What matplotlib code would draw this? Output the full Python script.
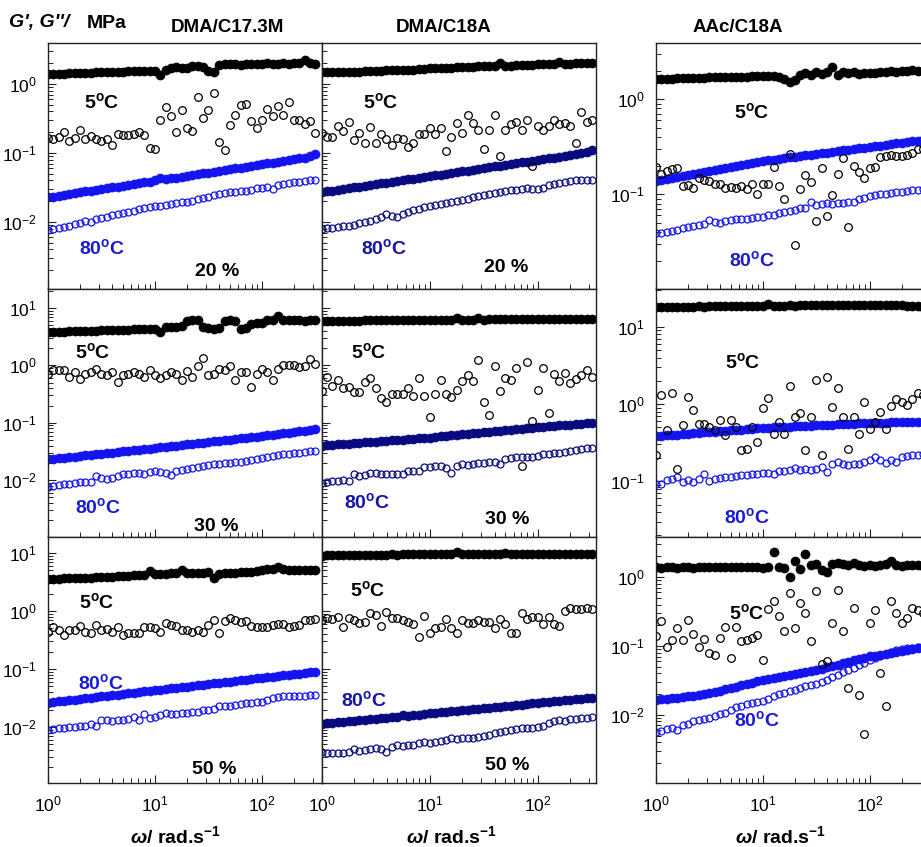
import numpy as np
import matplotlib
matplotlib.use('Agg')
import matplotlib.pyplot as plt
from matplotlib import ticker

plt.rcParams.update({
    'font.family': 'Liberation Sans',
    'mathtext.fontset': 'custom',
    'mathtext.rm': 'Liberation Sans',
    'mathtext.it': 'Liberation Sans:italic:bold',
    'mathtext.bf': 'Liberation Sans:bold',
})

# frequency sweep, rad/s
omega = [1.00, 1.12, 1.26, 1.41, 1.58, 1.78, 2.00, 2.24, 2.51, 2.82,
         3.16, 3.55, 3.98, 4.47, 5.01, 5.62, 6.31, 7.08, 7.94, 8.91,
         10.0, 11.2, 12.6, 14.1, 15.8, 17.8, 20.0, 22.4, 25.1, 28.2,
         31.6, 35.5, 39.8, 44.7, 50.1, 56.2, 63.1, 70.8, 79.4, 89.1,
         100, 112, 126, 141, 158, 178, 200, 224, 251, 282, 316]

# ---- DMA/C17.3M, 20 % ----
dma17_20_gp5 = [1.40, 1.40, 1.41, 1.42, 1.43, 1.43, 1.44, 1.45, 1.46, 1.47,
                1.48, 1.49, 1.50, 1.50, 1.51, 1.52, 1.53, 1.55, 1.56, 1.55,
                1.52, 1.35, 1.62, 1.70, 1.78, 1.72, 1.68, 1.80, 1.85, 1.75,
                1.55, 1.50, 1.90, 1.95, 1.92, 1.96, 1.90, 1.95, 1.98, 1.93,
                1.97, 2.00, 1.95, 1.98, 2.02, 1.96, 2.00, 2.05, 2.20, 2.00, 1.95]
dma17_20_gpp5 = [0.163, 0.16, 0.17, 0.20, 0.15, 0.165, 0.215, 0.16, 0.175, 0.16,
                 0.15, 0.16, 0.13, 0.19, 0.18, 0.18, 0.19, 0.20, 0.18, 0.117,
                 0.115, 0.30, 0.47, 0.34, 0.20, 0.42, 0.23, 0.21, 0.65, 0.32,
                 0.42, 0.75, 0.146, 0.11, 0.255, 0.355, 0.50, 0.51, 0.295, 0.228,
                 0.30, 0.44, 0.345, 0.48, 0.355, 0.55, 0.30, 0.30, 0.263, 0.29, 0.193]
dma17_20_gp80 = [0.0230, 0.0234, 0.0242, 0.0249, 0.0256, 0.0262, 0.0270, 0.0278, 0.0285, 0.0293,
                 0.0300, 0.0310, 0.0318, 0.0327, 0.0335, 0.0345, 0.0355, 0.0365, 0.0375, 0.0385,
                 0.0400, 0.0440, 0.0420, 0.0430, 0.0440, 0.0452, 0.0465, 0.0478, 0.0490, 0.0505,
                 0.0520, 0.0535, 0.0550, 0.0565, 0.0580, 0.0597, 0.0614, 0.0630, 0.0650, 0.0667,
                 0.0686, 0.0705, 0.0725, 0.0745, 0.0766, 0.0790, 0.0810, 0.0835, 0.0860, 0.0920, 0.0980]
dma17_20_gpp80 = [0.0077, 0.0079, 0.0081, 0.0084, 0.0088, 0.0093, 0.0098, 0.0103, 0.0101, 0.0110,
                  0.0115, 0.0118, 0.0125, 0.0130, 0.0137, 0.0142, 0.0145, 0.0155, 0.0158, 0.0163,
                  0.0168, 0.0170, 0.0178, 0.0182, 0.0188, 0.0196, 0.0192, 0.0205, 0.0218, 0.0225,
                  0.0230, 0.0245, 0.0255, 0.0262, 0.0272, 0.0276, 0.0278, 0.0285, 0.0292, 0.0310,
                  0.0315, 0.0325, 0.0305, 0.0340, 0.0360, 0.0368, 0.0375, 0.0385, 0.0390, 0.0402, 0.0405]

# ---- DMA/C18A, 20 % ----
dma18_20_gp5 = [1.50, 1.48, 1.47, 1.47, 1.48, 1.49, 1.50, 1.51, 1.52, 1.53,
                1.55, 1.56, 1.57, 1.58, 1.59, 1.60, 1.60, 1.62, 1.63, 1.64,
                1.68, 1.68, 1.70, 1.72, 1.73, 1.74, 1.75, 1.77, 1.78, 1.80,
                1.80, 1.82, 1.83, 2.00, 1.82, 1.85, 1.86, 1.88, 1.90, 1.90,
                1.93, 1.92, 1.95, 1.96, 2.10, 1.97, 1.98, 2.00, 1.99, 2.00, 2.00]
dma18_20_gpp5 = [0.197, 0.169, 0.17, 0.246, 0.211, 0.284, 0.154, 0.197, 0.141, 0.236,
                 0.141, 0.186, 0.16, 0.131, 0.165, 0.16, 0.124, 0.141, 0.186, 0.186,
                 0.228, 0.19, 0.228, 0.108, 0.17, 0.275, 0.195, 0.355, 0.27, 0.215,
                 0.113, 0.215, 0.355, 0.0905, 0.215, 0.26, 0.28, 0.215, 0.30, 0.065,
                 0.246, 0.215, 0.25, 0.30, 0.26, 0.27, 0.25, 0.141, 0.397, 0.28, 0.30]
dma18_20_gp80 = [0.0270, 0.0278, 0.0285, 0.0293, 0.0300, 0.0308, 0.0317, 0.0325, 0.0334, 0.0343,
                 0.0352, 0.0362, 0.0372, 0.0382, 0.0393, 0.0403, 0.0414, 0.0426, 0.0437, 0.0449,
                 0.0462, 0.0474, 0.0487, 0.0500, 0.0514, 0.0528, 0.0543, 0.0558, 0.0573, 0.0588,
                 0.0605, 0.0621, 0.0638, 0.0655, 0.0673, 0.0692, 0.0711, 0.0730, 0.0750, 0.0770,
                 0.0792, 0.0814, 0.0836, 0.0859, 0.0882, 0.0906, 0.0931, 0.0957, 0.1000, 0.1050, 0.1100]
dma18_20_gpp80 = [0.0079, 0.0081, 0.0083, 0.0085, 0.0087, 0.0089, 0.0092, 0.0096, 0.0100, 0.0105,
                  0.0109, 0.0118, 0.0130, 0.0122, 0.0120, 0.0130, 0.0140, 0.0148, 0.0155, 0.0163,
                  0.0170, 0.0178, 0.0185, 0.0190, 0.0195, 0.0200, 0.0206, 0.0215, 0.0228, 0.0236,
                  0.0245, 0.0255, 0.0265, 0.0272, 0.0283, 0.0290, 0.0296, 0.0300, 0.0308, 0.0305,
                  0.0300, 0.0315, 0.0345, 0.0355, 0.0370, 0.0385, 0.0390, 0.0400, 0.0405, 0.0410, 0.0410]

# ---- AAc/C18A, 20 % ----
aac18_20_gp5 = [1.62, 1.63, 1.64, 1.65, 1.66, 1.66, 1.67, 1.68, 1.68, 1.69,
                1.70, 1.70, 1.71, 1.71, 1.72, 1.72, 1.73, 1.73, 1.74, 1.74,
                1.75, 1.75, 1.76, 1.72, 1.62, 1.53, 1.60, 1.78, 1.90, 1.80,
                1.95, 1.85, 1.92, 2.20, 1.80, 1.95, 1.88, 1.92, 1.85, 1.90,
                1.90, 1.88, 1.95, 1.92, 1.98, 1.95, 2.00, 1.98, 2.02, 2.00, 2.00]
aac18_20_gpp5 = [0.194, 0.162, 0.176, 0.183, 0.19, 0.122, 0.125, 0.117, 0.147, 0.143,
                 0.138, 0.127, 0.129, 0.117, 0.119, 0.117, 0.121, 0.115, 0.127, 0.101,
                 0.127, 0.129, 0.194, 0.121, 0.089, 0.268, 0.0296, 0.113, 0.159, 0.136,
                 0.0525, 0.19, 0.0598, 0.0977, 0.164, 0.243, 0.0449, 0.199, 0.171, 0.15,
                 0.19, 0.194, 0.248, 0.25, 0.262, 0.255, 0.25, 0.262, 0.275, 0.299, 0.30]
aac18_20_gp80 = [0.138, 0.141, 0.145, 0.148, 0.152, 0.156, 0.160, 0.164, 0.168, 0.172,
                 0.176, 0.180, 0.185, 0.189, 0.194, 0.198, 0.203, 0.208, 0.213, 0.218,
                 0.224, 0.228, 0.232, 0.236, 0.240, 0.244, 0.248, 0.252, 0.257, 0.261,
                 0.266, 0.270, 0.275, 0.280, 0.285, 0.290, 0.295, 0.300, 0.305, 0.310,
                 0.315, 0.320, 0.326, 0.331, 0.337, 0.343, 0.349, 0.355, 0.361, 0.367, 0.373]
aac18_20_gpp80 = [0.0388, 0.0395, 0.0404, 0.0415, 0.0425, 0.0438, 0.0450, 0.0460, 0.0475, 0.0490,
                  0.0535, 0.0510, 0.0505, 0.0520, 0.0538, 0.0545, 0.0550, 0.0555, 0.0570, 0.0580,
                  0.0583, 0.0600, 0.0608, 0.0630, 0.0650, 0.0660, 0.0680, 0.0710, 0.0715, 0.0840,
                  0.0780, 0.0800, 0.0810, 0.0790, 0.0810, 0.0820, 0.0830, 0.0840, 0.0890, 0.0920,
                  0.0950, 0.0990, 0.1000, 0.1010, 0.1030, 0.1050, 0.1070, 0.1090, 0.1100, 0.1120, 0.1130]

# ---- DMA/C17.3M, 30 % ----
dma17_30_gp5 = [3.84, 3.86, 3.88, 3.90, 3.93, 3.95, 3.98, 4.00, 4.03, 4.05,
                4.08, 4.10, 4.13, 4.15, 4.20, 4.22, 4.25, 4.30, 4.35, 4.40,
                4.40, 3.90, 4.70, 4.75, 4.70, 4.80, 6.00, 6.30, 6.10, 4.60,
                4.50, 4.40, 4.50, 6.00, 6.10, 6.00, 4.40, 4.50, 5.30, 5.40,
                5.50, 6.10, 6.20, 7.20, 6.20, 6.10, 6.10, 6.20, 6.00, 6.10, 6.10]
dma17_30_gpp5 = [0.714, 0.84, 0.817, 0.817, 0.624, 0.764, 0.583, 0.70, 0.764, 0.875,
                 0.714, 0.668, 0.764, 0.51, 0.668, 0.714, 0.764, 0.714, 0.624, 0.817,
                 0.668, 0.608, 0.668, 0.764, 0.70, 0.561, 0.80, 0.624, 0.96, 1.36,
                 0.668, 0.70, 0.875, 0.82, 0.96, 0.546, 0.764, 0.764, 0.417, 0.70,
                 0.875, 0.764, 0.561, 0.875, 1.0, 1.0, 1.0, 0.935, 0.96, 1.31, 1.07]
dma17_30_gp80 = [0.0229, 0.0234, 0.0240, 0.0245, 0.0251, 0.0257, 0.0263, 0.0269, 0.0275, 0.0282,
                 0.0288, 0.0295, 0.0302, 0.0309, 0.0316, 0.0323, 0.0331, 0.0338, 0.0346, 0.0354,
                 0.0363, 0.0372, 0.0381, 0.0390, 0.0400, 0.0410, 0.0420, 0.0430, 0.0440, 0.0451,
                 0.0462, 0.0474, 0.0485, 0.0497, 0.0509, 0.0522, 0.0535, 0.0548, 0.0561, 0.0575,
                 0.0589, 0.0605, 0.0622, 0.0639, 0.0657, 0.0675, 0.0694, 0.0713, 0.0733, 0.0754, 0.0775]
dma17_30_gpp80 = [0.0075, 0.0079, 0.0082, 0.0084, 0.0087, 0.0090, 0.0091, 0.0092, 0.0093, 0.0118,
                  0.0107, 0.0103, 0.0108, 0.0118, 0.0126, 0.0128, 0.0131, 0.0134, 0.0128, 0.0138,
                  0.0144, 0.0140, 0.0135, 0.0122, 0.0144, 0.0150, 0.0154, 0.0160, 0.0169, 0.0175,
                  0.0182, 0.0188, 0.0192, 0.0197, 0.0201, 0.0205, 0.0210, 0.0214, 0.0222, 0.0232,
                  0.0242, 0.0250, 0.0260, 0.0272, 0.0282, 0.0288, 0.0295, 0.0302, 0.0310, 0.0318, 0.0323]

# ---- DMA/C18A, 30 % ----
dma18_30_gp5 = [6.0, 5.95, 5.95, 6.0, 6.0, 6.0, 6.05, 6.05, 6.1, 6.1,
                6.1, 6.15, 6.1, 6.15, 6.2, 6.2, 6.25, 6.2, 6.15, 6.2,
                6.25, 6.25, 6.3, 6.3, 6.3, 6.6, 6.3, 6.3, 6.25, 6.65,
                6.3, 6.35, 6.35, 6.4, 6.35, 6.4, 6.4, 6.45, 6.4, 6.4,
                6.45, 6.45, 6.4, 6.45, 6.45, 6.5, 6.45, 6.5, 6.5, 6.45, 6.5]
dma18_30_gpp5 = [0.364, 0.641, 0.446, 0.546, 0.406, 0.417, 0.34, 0.34, 0.51, 0.608,
                 0.406, 0.271, 0.233, 0.318, 0.318, 0.318, 0.406, 0.298, 0.60, 0.298,
                 0.124, 0.318, 0.546, 0.318, 0.278, 0.374, 0.531, 0.668, 0.531, 1.22,
                 0.227, 0.138, 0.96, 0.355, 0.60, 0.561, 0.91, 0.0176, 1.14, 0.108,
                 0.374, 0.91, 0.146, 0.714, 0.54, 0.73, 0.49, 0.583, 0.668, 0.817, 0.641]
dma18_30_gp80 = [0.0400, 0.0407, 0.0413, 0.0420, 0.0427, 0.0434, 0.0441, 0.0448, 0.0455, 0.0463,
                 0.0470, 0.0478, 0.0486, 0.0494, 0.0502, 0.0510, 0.0518, 0.0527, 0.0535, 0.0544,
                 0.0553, 0.0565, 0.0577, 0.0589, 0.0601, 0.0614, 0.0627, 0.0640, 0.0653, 0.0667,
                 0.0681, 0.0695, 0.0710, 0.0725, 0.0740, 0.0755, 0.0771, 0.0787, 0.0804, 0.0821,
                 0.0838, 0.0853, 0.0868, 0.0883, 0.0898, 0.0914, 0.0930, 0.0946, 0.0962, 0.0979, 0.0996]
dma18_30_gpp80 = [0.0090, 0.0093, 0.0096, 0.0098, 0.0099, 0.0097, 0.0126, 0.0118, 0.0125, 0.0134,
                  0.0132, 0.0126, 0.0129, 0.0129, 0.0128, 0.0126, 0.0144, 0.0145, 0.0147, 0.0169,
                  0.0169, 0.0176, 0.0176, 0.0164, 0.0134, 0.0175, 0.0188, 0.0185, 0.0195, 0.0201,
                  0.0201, 0.0208, 0.0205, 0.0188, 0.0231, 0.0240, 0.0253, 0.0253, 0.0253, 0.0258,
                  0.0264, 0.0282, 0.0290, 0.0302, 0.0302, 0.0310, 0.0323, 0.0330, 0.0350, 0.0360, 0.0369]

# ---- AAc/C18A, 30 % ----
aac18_30_gp5 = [18.0, 18.2, 18.0, 18.2, 18.3, 18.1, 18.2, 18.3, 18.4, 18.3,
                18.4, 18.5, 18.4, 18.5, 18.6, 18.5, 18.6, 18.5, 18.6, 18.7,
                18.8, 19.8, 18.8, 18.9, 18.8, 19.0, 18.9, 19.0, 19.2, 19.1,
                19.0, 19.2, 19.0, 19.1, 19.3, 19.2, 19.3, 19.2, 19.4, 19.3,
                19.2, 19.3, 19.1, 19.0, 19.2, 19.1, 19.0, 18.8, 18.6, 18.4, 18.2]
aac18_30_gpp5 = [0.218, 1.31, 0.469, 1.38, 0.146, 0.533, 1.24, 0.836, 0.561, 0.561,
                 0.508, 0.459, 0.632, 0.396, 0.632, 0.508, 0.253, 0.266, 0.508, 0.324,
                 0.879, 1.19, 0.416, 0.59, 0.416, 1.71, 0.684, 0.757, 0.253, 0.684,
                 2.05, 0.218, 2.26, 0.923, 1.6, 0.684, 0.266, 0.684, 0.416, 1.07,
                 0.483, 0.59, 0.795, 0.483, 0.942, 1.15, 1.07, 0.97, 1.15, 1.38, 1.31]
aac18_30_gp80 = [0.384, 0.389, 0.394, 0.399, 0.404, 0.409, 0.414, 0.419, 0.424, 0.430,
                 0.435, 0.440, 0.446, 0.451, 0.457, 0.463, 0.469, 0.475, 0.481, 0.487,
                 0.493, 0.497, 0.500, 0.504, 0.508, 0.512, 0.515, 0.519, 0.523, 0.527,
                 0.531, 0.535, 0.539, 0.543, 0.547, 0.551, 0.555, 0.560, 0.564, 0.568,
                 0.573, 0.575, 0.576, 0.578, 0.580, 0.581, 0.583, 0.585, 0.586, 0.588, 0.590]
aac18_30_gpp80 = [0.0914, 0.0933, 0.103, 0.108, 0.114, 0.098, 0.105, 0.098, 0.108, 0.123,
                  0.101, 0.108, 0.112, 0.114, 0.114, 0.116, 0.120, 0.120, 0.126, 0.126,
                  0.128, 0.128, 0.123, 0.136, 0.136, 0.142, 0.151, 0.142, 0.146, 0.142,
                  0.146, 0.153, 0.132, 0.166, 0.178, 0.169, 0.161, 0.169, 0.169, 0.178,
                  0.187, 0.207, 0.187, 0.173, 0.187, 0.178, 0.207, 0.211, 0.218, 0.218, 0.224]

# ---- DMA/C17.3M, 50 % ----
dma17_50_gp5 = [3.50, 3.55, 3.60, 3.65, 3.68, 3.70, 3.72, 3.75, 3.78, 3.80,
                3.85, 3.88, 3.92, 3.95, 4.00, 4.05, 4.10, 4.15, 4.20, 4.90,
                4.30, 4.35, 4.40, 4.45, 4.60, 5.00, 4.60, 4.50, 4.55, 4.60,
                4.65, 3.70, 4.40, 4.50, 4.60, 4.60, 4.70, 4.80, 4.70, 4.90,
                5.10, 5.20, 5.40, 5.80, 5.30, 5.10, 5.00, 5.10, 5.00, 5.00, 5.00]
dma17_50_gpp5 = [0.44, 0.523, 0.47, 0.386, 0.47, 0.47, 0.551, 0.44, 0.412, 0.574,
                 0.47, 0.483, 0.44, 0.523, 0.386, 0.412, 0.412, 0.423, 0.523, 0.523,
                 0.503, 0.44, 0.629, 0.574, 0.551, 0.47, 0.47, 0.44, 0.47, 0.44,
                 0.574, 0.70, 0.412, 0.681, 0.748, 0.70, 0.655, 0.681, 0.551, 0.537,
                 0.537, 0.523, 0.574, 0.597, 0.597, 0.523, 0.551, 0.574, 0.70, 0.70, 0.718]
dma17_50_gp80 = [0.0263, 0.0270, 0.0276, 0.0283, 0.0290, 0.0297, 0.0305, 0.0312, 0.0320, 0.0328,
                 0.0336, 0.0345, 0.0353, 0.0362, 0.0371, 0.0380, 0.0390, 0.0399, 0.0409, 0.0420,
                 0.0430, 0.0441, 0.0452, 0.0463, 0.0475, 0.0486, 0.0498, 0.0511, 0.0523, 0.0537,
                 0.0550, 0.0564, 0.0578, 0.0592, 0.0607, 0.0622, 0.0637, 0.0653, 0.0670, 0.0686,
                 0.0703, 0.0721, 0.0739, 0.0757, 0.0776, 0.0795, 0.0815, 0.0835, 0.0856, 0.0877, 0.0899]
dma17_50_gpp80 = [0.0089, 0.0092, 0.0095, 0.0097, 0.0099, 0.0101, 0.0103, 0.0104, 0.0113, 0.0104,
                  0.0132, 0.0130, 0.0129, 0.0131, 0.0133, 0.0136, 0.0151, 0.0132, 0.0165, 0.0140,
                  0.0151, 0.0158, 0.0172, 0.0170, 0.0169, 0.0173, 0.0177, 0.0180, 0.0184, 0.0196,
                  0.0198, 0.0202, 0.0230, 0.0228, 0.0226, 0.0239, 0.0245, 0.0256, 0.0260, 0.0266,
                  0.0273, 0.0292, 0.0310, 0.0333, 0.0338, 0.0342, 0.0342, 0.0342, 0.0348, 0.0352, 0.0356]

# ---- DMA/C18A, 50 % ----
dma18_50_gp5 = [9.0, 9.1, 9.2, 9.1, 9.2, 9.3, 9.2, 9.3, 9.3, 9.4,
                9.3, 9.4, 9.4, 9.5, 9.4, 9.5, 9.5, 9.6, 9.5, 9.6,
                9.6, 9.7, 9.6, 9.7, 9.6, 10.3, 9.7, 9.8, 9.7, 9.8,
                9.8, 9.7, 9.8, 9.8, 9.9, 9.8, 9.8, 9.7, 9.8, 9.8,
                9.7, 9.8, 9.7, 9.7, 9.8, 9.7, 9.7, 9.6, 9.7, 9.6, 9.6]
dma18_50_gpp5 = [0.70, 0.748, 0.718, 0.778, 0.523, 0.748, 0.70, 0.629, 0.655, 0.936,
                 0.853, 0.551, 0.973, 0.748, 0.748, 0.70, 0.655, 0.597, 0.361, 0.82,
                 0.423, 0.503, 0.537, 0.718, 0.503, 0.423, 0.70, 0.629, 0.612, 0.70,
                 0.655, 0.655, 0.503, 0.718, 0.597, 0.423, 0.412, 0.936, 0.718, 0.778,
                 0.778, 0.597, 0.798, 0.597, 0.551, 1.013, 1.11, 1.07, 1.07, 1.11, 1.07]
dma18_50_gp80 = [0.0113, 0.0115, 0.0118, 0.0120, 0.0123, 0.0125, 0.0128, 0.0131, 0.0133, 0.0136,
                 0.0139, 0.0142, 0.0145, 0.0148, 0.0151, 0.0158, 0.0157, 0.0161, 0.0164, 0.0168,
                 0.0171, 0.0175, 0.0178, 0.0182, 0.0186, 0.0190, 0.0194, 0.0198, 0.0202, 0.0206,
                 0.0211, 0.0215, 0.0220, 0.0224, 0.0229, 0.0234, 0.0239, 0.0244, 0.0249, 0.0254,
                 0.0260, 0.0265, 0.0271, 0.0276, 0.0282, 0.0288, 0.0294, 0.0301, 0.0307, 0.0314, 0.0320]
dma18_50_gpp80 = [0.00376, 0.00352, 0.00361, 0.00361, 0.00361, 0.00376, 0.00412, 0.00391, 0.00401, 0.00412,
                  0.00429, 0.00412, 0.00376, 0.00458, 0.0049, 0.0047, 0.0048, 0.0049, 0.00523, 0.00558,
                  0.00523, 0.00558, 0.0058, 0.00597, 0.00638, 0.00613, 0.00638, 0.0064, 0.00638, 0.00681,
                  0.0070, 0.0074, 0.00778, 0.00831, 0.00865, 0.00888, 0.00912, 0.00948, 0.0095, 0.00948,
                  0.01013, 0.0104, 0.01156, 0.0125, 0.0132, 0.01285, 0.01355, 0.0136, 0.0142, 0.01449, 0.01507]

# ---- AAc/C18A, 50 % ----
aac18_50_gp5 = [1.40, 1.38, 1.40, 1.39, 1.38, 1.40, 1.42, 1.38, 1.40, 1.41,
                1.40, 1.42, 1.39, 1.41, 1.40, 1.43, 1.40, 1.41, 1.42, 1.40,
                1.38, 1.40, 2.33, 1.40, 1.38, 1.02, 1.72, 1.33, 2.20, 1.50,
                1.53, 1.27, 1.20, 1.57, 1.60, 1.55, 1.50, 1.60, 1.48, 1.45,
                1.50, 1.45, 1.48, 1.55, 1.70, 1.50, 1.45, 1.50, 1.48, 1.50, 1.45]
aac18_50_gpp5 = [0.139, 0.231, 0.0957, 0.124, 0.184, 0.124, 0.236, 0.147, 0.0957, 0.128,
                 0.0789, 0.073, 0.131, 0.188, 0.0667, 0.188, 0.12, 0.124, 0.131, 0.1436,
                 0.063, 0.342, 0.454, 0.273, 0.164, 0.582, 0.184, 0.415, 0.306, 0.12,
                 0.622, 0.0543, 0.0608, 0.218, 0.652, 0.164, 0.0247, 0.362, 0.0193, 0.00526,
                 0.218, 0.331, 0.0401, 0.0133, 0.444, 0.306, 0.218, 0.258, 0.355, 0.331, 0.306]
aac18_50_gp80 = [0.0163, 0.0167, 0.0170, 0.0174, 0.0178, 0.0182, 0.0186, 0.0190, 0.0195, 0.0199,
                 0.0204, 0.0213, 0.0223, 0.0234, 0.0244, 0.0256, 0.0267, 0.0280, 0.0293, 0.0306,
                 0.0320, 0.0331, 0.0342, 0.0354, 0.0366, 0.0379, 0.0392, 0.0405, 0.0419, 0.0434,
                 0.0449, 0.0470, 0.0491, 0.0514, 0.0538, 0.0563, 0.0589, 0.0616, 0.0644, 0.0674,
                 0.0705, 0.0726, 0.0748, 0.0770, 0.0793, 0.0817, 0.0842, 0.0867, 0.0893, 0.0920, 0.0947]
aac18_50_gpp80 = [0.0057, 0.0059, 0.0062, 0.0064, 0.0061, 0.0071, 0.0074, 0.0080, 0.0083, 0.0087,
                  0.0090, 0.0095, 0.0101, 0.0106, 0.0117, 0.0130, 0.0136, 0.0142, 0.0148, 0.0152,
                  0.0160, 0.0170, 0.0185, 0.0198, 0.0208, 0.0220, 0.0232, 0.0245, 0.0260, 0.0274,
                  0.0282, 0.0300, 0.0325, 0.0352, 0.0380, 0.0415, 0.0445, 0.0480, 0.0530, 0.0575,
                  0.0620, 0.0670, 0.0720, 0.0770, 0.0820, 0.0870, 0.0905, 0.0930, 0.0950, 0.0970, 0.0990]

titles = ['DMA/C17.3M', 'DMA/C18A', 'AAc/C18A']
contents = ['20 %', '30 %', '50 %']

blue = '#1414f0'
navy = '#0a0a80'
blue_txt = '#1a1ad0'
navy_txt = '#1414a8'

W, H = 921, 847
fig = plt.figure(figsize=(W / 100, H / 100), dpi=100)


def box(x0, x1, y0, y1):
    return [x0 / W, 1 - y1 / H, (x1 - x0) / W, (y1 - y0) / H]


def ftext(x, y, s, **kw):
    kw.setdefault('ha', 'center')
    kw.setdefault('va', 'center')
    fig.text(x / W, 1 - y / H, s, **kw)


def decades(lo, hi):
    # major ticks only on the decades inside the axis range
    return [10.0 ** e for e in range(-4, 4) if lo <= 10.0 ** e <= hi]


col_px = [(48, 321.5), (321.5, 596), (656, 929)]
row_px = [(43, 289), (289, 537), (537, 783)]
xlims = [(1, 360), (1, 345), (1, 360)]
ylims = [[(0.00107, 3.93), (0.00107, 3.93), (0.0101, 3.9)],
         [(0.00102, 21.5), (0.00102, 21.5), (0.019, 31)],
         [(0.00108, 18.9), (0.00108, 18.9), (0.00102, 3.84)]]

panels = [
    [(dma17_20_gp5, dma17_20_gpp5, dma17_20_gp80, dma17_20_gpp80, blue),
     (dma18_20_gp5, dma18_20_gpp5, dma18_20_gp80, dma18_20_gpp80, navy),
     (aac18_20_gp5, aac18_20_gpp5, aac18_20_gp80, aac18_20_gpp80, blue)],
    [(dma17_30_gp5, dma17_30_gpp5, dma17_30_gp80, dma17_30_gpp80, blue),
     (dma18_30_gp5, dma18_30_gpp5, dma18_30_gp80, dma18_30_gpp80, navy),
     (aac18_30_gp5, aac18_30_gpp5, aac18_30_gp80, aac18_30_gpp80, blue)],
    [(dma17_50_gp5, dma17_50_gpp5, dma17_50_gp80, dma17_50_gpp80, blue),
     (dma18_50_gp5, dma18_50_gpp5, dma18_50_gp80, dma18_50_gpp80, navy),
     (aac18_50_gp5, aac18_50_gpp5, aac18_50_gp80, aac18_50_gpp80, blue)],
]

for r in range(3):
    for c in range(3):
        ax = fig.add_axes(box(col_px[c][0], col_px[c][1], row_px[r][0], row_px[r][1]))
        gp5, gpp5, gp80, gpp80, col = panels[r][c]
        ax.plot(omega, gp80, 'o', ms=6.5, color=col, mec=col, mew=0.5)
        ax.plot(omega, gpp80, 'o', ms=5, mfc='none', mec=col, mew=0.9)
        ax.plot(omega, gp5, 'o', ms=6.5, color='k', mec='k', mew=0.5)
        ax.plot(omega, gpp5, 'o', ms=5.5, mfc='none', mec='k', mew=0.9)

        ax.set_xscale('log')
        ax.set_yscale('log')
        ax.set_xlim(*xlims[c])
        ax.set_ylim(*ylims[r][c])
        ax.xaxis.set_major_locator(ticker.FixedLocator(decades(*xlims[c])))
        ax.yaxis.set_major_locator(ticker.FixedLocator(decades(*ylims[r][c])))
        ax.xaxis.set_major_formatter(ticker.LogFormatterSciNotation())
        ax.yaxis.set_major_formatter(ticker.LogFormatterSciNotation())
        for a in (ax.xaxis, ax.yaxis):
            a.set_minor_locator(ticker.LogLocator(base=10, subs=np.arange(2, 10), numticks=20))
            a.set_minor_formatter(ticker.NullFormatter())
        ax.tick_params(which='both', direction='in', top=False, right=False,
                       color='#222222', labelsize=12.5)
        ax.tick_params(which='major', length=6, width=0.8, pad=8)
        ax.tick_params(which='minor', length=3.5, width=0.7)
        if c == 1:
            ax.tick_params(labelleft=False)
        if r < 2:
            ax.tick_params(labelbottom=False)
        for s in ax.spines.values():
            s.set_linewidth(1.0)
            s.set_color('#222222')

# column titles and axis captions
for x, t in zip([227, 444, 738], titles):
    ftext(x, 27, t, fontsize=13.5, fontweight='bold')
ftext(9, 23, "G', G''/", ha='left', fontsize=14, fontweight='bold', fontstyle='italic')
ftext(87, 23, 'MPa', ha='left', fontsize=14, fontweight='bold')
for x in [176, 452, 781]:
    ftext(x, 836, r'$\mathit{\omega}$/ rad.s$^{\mathbf{-1}}$', fontsize=14, fontweight='bold')

# in-panel annotations
deg5 = r'5$^{\mathbf{o}}$C'
deg80 = r'80$^{\mathbf{o}}$C'
notes = [
    (102, 102, deg5, 'k'), (102, 248, deg80, blue_txt), (217, 272, contents[0], 'k'),
    (381, 102, deg5, 'k'), (384, 248, deg80, navy_txt), (506, 267, contents[0], 'k'),
    (752, 112, deg5, 'k'), (752, 260, deg80, blue_txt),
    (93, 352, deg5, 'k'), (98, 507, deg80, blue_txt), (216, 526, contents[1], 'k'),
    (369, 352, deg5, 'k'), (367, 502, deg80, navy_txt), (507, 519, contents[1], 'k'),
    (743, 362, deg5, 'k'), (747, 517, deg80, blue_txt),
    (97, 602, deg5, 'k'), (101, 683, deg80, blue_txt), (214, 769, contents[2], 'k'),
    (368, 590, deg5, 'k'), (364, 700, deg80, navy_txt), (507, 765, contents[2], 'k'),
    (747, 613, deg5, 'k'), (757, 720, deg80, blue_txt),
]
for x, y, s, col in notes:
    ftext(x, y, s, fontsize=14, fontweight='bold', color=col)

fig.savefig('out.png', dpi=100)
